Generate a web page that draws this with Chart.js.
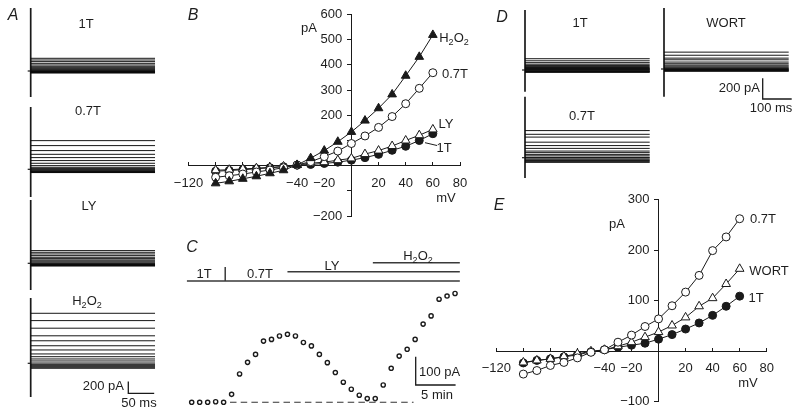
<!DOCTYPE html>
<html>
<head>
<meta charset="utf-8">
<script src="https://cdn.jsdelivr.net/npm/chart.js@4.4.0/dist/chart.umd.min.js"></script>
<style>
  body { margin: 0; background: #fff; }
  #fig { position: relative; width: 800px; height: 415px; overflow: hidden; font-family: 'Liberation Sans', Arial, sans-serif; color: #1e1e1e; }
  #fig canvas { position: absolute; z-index: 1; }
  #fig svg { position: absolute; left: 0; top: 0; z-index: 2; }
  .t { position: absolute; z-index: 3; font-size: 13px; line-height: 1; white-space: nowrap; transform: translate(-50%, -50%); }
  .p { font-size: 16px; font-style: italic; }
  .r { transform: translate(-100%, -50%); }
  .l { transform: translate(0, -50%); }
  sub { font-size: 9px; vertical-align: -3px; line-height: 0; }
</style>
</head>
<body>
<div id="fig">
  <!-- panel A -->
  <div class="t p" style="left:13px;top:15px">A</div>
  <div class="t" style="left:86px;top:23px">1T</div>
  <div class="t" style="left:88px;top:110px">0.7T</div>
  <div class="t" style="left:89px;top:205px">LY</div>
  <div class="t" style="left:87px;top:300px">H<sub>2</sub>O<sub>2</sub></div>
  <div class="t r" style="left:124px;top:385px">200 pA</div>
  <div class="t" style="left:139px;top:402px">50 ms</div>
  <!-- panel B -->
  <div class="t p" style="left:193px;top:15px">B</div>
  <div class="t" style="left:309px;top:27px">pA</div>
  <div class="t" style="left:446px;top:197px">mV</div>
  <div class="t" style="left:454px;top:37px">H<sub>2</sub>O<sub>2</sub></div>
  <div class="t" style="left:455px;top:73px">0.7T</div>
  <div class="t" style="left:446px;top:123px">LY</div>
  <div class="t" style="left:444px;top:147px">1T</div>
  <!-- panel C -->
  <div class="t p" style="left:192px;top:247px">C</div>
  <div class="t" style="left:204px;top:273px">1T</div>
  <div class="t" style="left:260px;top:273px">0.7T</div>
  <div class="t" style="left:332px;top:265px">LY</div>
  <div class="t" style="left:418px;top:255px">H<sub>2</sub>O<sub>2</sub></div>
  <div class="t l" style="left:419px;top:371px">100 pA</div>
  <div class="t" style="left:437px;top:394px">5 min</div>
  <!-- panel D -->
  <div class="t p" style="left:502px;top:17px">D</div>
  <div class="t" style="left:580px;top:22px">1T</div>
  <div class="t" style="left:726px;top:22px">WORT</div>
  <div class="t" style="left:582px;top:115px">0.7T</div>
  <div class="t r" style="left:760px;top:87px">200 pA</div>
  <div class="t" style="left:771px;top:107px">100 ms</div>
  <!-- panel E -->
  <div class="t p" style="left:499px;top:205px">E</div>
  <div class="t" style="left:617px;top:223px">pA</div>
  <div class="t" style="left:748px;top:382px">mV</div>
  <div class="t" style="left:763px;top:218px">0.7T</div>
  <div class="t" style="left:769px;top:270px">WORT</div>
  <div class="t" style="left:756px;top:297px">1T</div>
  <svg width="800" height="415"><line x1="425" y1="142.7" x2="437" y2="145.5" stroke="#1e1e1e" stroke-width="1"/></svg>
</div>
<script>
// Step potentials (mV) used for every I-V curve and every family of sweeps
const voltages = [-100, -90, -80, -70, -60, -50, -40, -30, -20, -10, 0, 10, 20, 30, 40, 50, 60];

// B: I-V curves (pA)
const ivB_1T   = [-22, -19, -16, -12, -8, -4, 2, 5, 9, 14, 22, 32, 45, 61, 77, 100, 127];
const ivB_07T  = [-46, -40, -33, -25, -17, -8, 3, 16, 36, 58, 88, 118, 152, 195, 246, 307, 369];
const ivB_LY   = [-18, -16, -13, -10, -7, -3, 3, 10, 14, 22, 29, 46, 60, 78, 100, 121, 144];
const ivB_H2O2 = [-70, -62, -52, -42, -30, -18, 3, 30, 60, 95, 134, 179, 228, 283, 357, 432, 519];

// E: I-V curves (pA)
const ivE_1T   = [-23, -18, -15, -11, -7, -1, 3, 8, 12, 16, 24, 33, 44, 56, 71, 89, 109];
const ivE_07T  = [-45, -38, -28, -22, -13, -2, 3, 18, 32, 49, 64, 90, 117, 150, 199, 226, 262];
const ivE_WORT = [-22, -18, -15, -10, -5, 0, 3, 10, 18, 28, 38, 51, 67, 89, 105, 133, 163];

// A: steady current of each sweep (pA from holding), same order as voltages
const trA_1T   = [-34, -28, -23, -17, -11, -6, 0, 11, 23, 40, 57, 80, 103, 131, 160, 188, 217];
const trA_07T  = [-56, -51, -46, -39, -29, -17, -6, 12, 34, 63, 103, 149, 200, 256, 320, 405, 490];
const trA_LY   = [-46, -40, -34, -29, -23, -17, -6, 6, 23, 40, 57, 80, 103, 131, 160, 188, 217];
const trA_H2O2 = [-85, -68, -51, -34, -17, 5, 40, 74, 113, 160, 228, 300, 385, 470, 600, 730, 855];

// capacitive transient extremes (pA): A = 1T, 0.7T, LY, H2O2; D = 1T, WORT, 0.7T
const spikeA_peak   = [1077, 1065, 1083, 1117];
const spikeA_trough = [-445, -474, -456, -576];
const spikeD_peak   = [580, 589, 589];
const spikeD_trough = [-210, -268, -196];

// C: current at +60 mV over time
const minutesC = [0, 1, 2, 3, 4, 5, 6, 7, 8, 9, 10, 11, 12, 13, 14, 15, 16, 17, 18, 19, 20, 21, 22, 23, 24, 25, 26, 27, 28, 29, 30, 31, 32, 33];
const currentC = [0, 0, 0, 2, 0, 28, 100, 141, 169, 216, 222, 234, 240, 234, 211, 199, 169, 140, 105, 71, 46, 25, 13, 13, 61, 120, 163, 187, 222, 276, 305, 364, 375, 384];
const condLabels = ['1T', '0.7T', 'LY', 'H2O2'];
const condStart = [-0.6, 4.2, 12.0, 22.7];
const condEnd = 33.6;
const baselineSpan = [4.8, 27.8];

// axis ticks
const ivTicksX  = [-120, -100, -80, -60, -40, -20, 20, 40, 60, 80];
const ivLabelsX = [-120, -40, -20, 20, 40, 60, 80];
const bTicksY   = [-200, -100, 100, 200, 300, 400, 500, 600];
const bLabelsY  = [-200, 200, 300, 400, 500, 600];
const eTicksY   = [-100, 100, 200, 300];
const eLabelsY  = [-100, 100, 200, 300];

const INK = '#1a1a1a';

Chart.defaults.font.family = "'Liberation Sans', Arial, sans-serif";
Chart.defaults.font.size = 13;
Chart.defaults.color = '#1e1e1e';
Chart.defaults.animation = false;
Chart.defaults.responsive = false;
Chart.defaults.plugins.legend.display = false;
Chart.defaults.plugins.tooltip.enabled = false;
Chart.defaults.layout.autoPadding = false;

// Create a canvas at page position
function addCanvas(box) {
    const c = document.createElement('canvas');
    c.width = box.w;
    c.height = box.h;
    c.style.left = box.x + 'px';
    c.style.top = box.y + 'px';
    document.getElementById('fig').appendChild(c);
    return c;
}

// Linear range that puts value 0 at page pixel `zero`
function spanX(box, zero, k) {
    return { min: (box.x - zero) / k, max: (box.x + box.w - zero) / k };
}
function spanY(box, zero, k) {
    return { min: (zero - box.y - box.h) / k, max: (zero - box.y) / k };
}

function line(points, opts = {}) {
    return Object.assign({
        data: points, showLine: true, pointRadius: 0, tension: 0,
        borderColor: INK, borderWidth: 1
    }, opts);
}

// Family of current sweeps (panels A and D)
function traceChart(box, origin, k, levels, peak, trough, sweepEnd, bar) {
    const canvas = addCanvas(box);
    const ds = levels.map(v => line([{ x: 0, y: v }, { x: sweepEnd, y: v }],
        { borderColor: 'rgba(10,10,10,0.95)', borderWidth: 1 }));
    ds.push(line([{ x: -3 / k.x, y: 0 }, { x: 0, y: 0 }], { borderWidth: 1.2 }));
    ds.push(line([{ x: 0, y: peak }, { x: 0, y: trough }], { borderWidth: 1.7 }));
    if (bar) {
        const cx = (bar.x - origin.x) / k.x;
        const cy = (origin.y - bar.y) / k.y;
        ds.push(line([{ x: cx, y: cy + bar.dy }, { x: cx, y: cy }, { x: cx + bar.dx, y: cy }], { borderWidth: 1.3 }));
    }
    new Chart(canvas, {
        type: 'scatter',
        data: { datasets: ds },
        options: {
            layout: { padding: 0 },
            scales: {
                x: Object.assign({ type: 'linear', display: false }, spanX(box, origin.x, k.x)),
                y: Object.assign({ type: 'linear', display: false }, spanY(box, origin.y, k.y))
            }
        }
    });
}

// Axis crossing the other one at zero; labels kept clear of the line
function axisOpts(axis, range, tickVals, labelVals) {
    const isX = axis === 'x';
    return {
        type: 'linear', min: range[0], max: range[1],
        position: isX ? { y: 0 } : { x: 0 },
        afterBuildTicks: s => { s.ticks = tickVals.map(v => ({ value: v })); },
        afterFit: s => { if (isX) s.height = 0; else s.width = 0; },
        grid: { drawOnChartArea: false, drawTicks: true, tickLength: isX ? -4 : 4, color: INK, lineWidth: 1 },
        border: { display: true, color: INK, width: 1 },
        ticks: {
            autoSkip: false, maxRotation: 0, padding: 3,
            font: { size: 13, lineHeight: isX ? 2.85 : 1.2 },
            callback: v => {
                if (!labelVals.includes(v)) return '';
                const s = String(v).replace('-', '\u2212');
                return isX ? s : s + '\u2002\u2009';
            }
        }
    };
}

// I-V chart (panels B and E)
function ivChart(box, area, xr, yr, series, yTicks, yLabels) {
    const canvas = addCanvas(box);
    new Chart(canvas, {
        type: 'scatter',
        data: {
            datasets: series.map(s => ({
                data: voltages.map((v, i) => ({ x: v, y: s.values[i] })),
                showLine: true, tension: 0, borderColor: INK, borderWidth: 1,
                pointStyle: s.shape, pointRadius: s.shape === 'triangle' ? 5 : 4,
                pointBackgroundColor: s.filled ? INK : '#fff',
                pointBorderColor: INK, pointBorderWidth: 1
            }))
        },
        options: {
            layout: {
                padding: {
                    left: area.l - box.x, top: area.t - box.y,
                    right: box.x + box.w - area.r, bottom: box.y + box.h - area.b
                }
            },
            scales: {
                x: axisOpts('x', xr, ivTicksX, ivLabelsX),
                y: axisOpts('y', yr, yTicks, yLabels)
            }
        }
    });
}

// ---- A ----
const kA = { x: 0.518, y: 11.7 / 200 };
traceChart({ x: 15, y: 5, w: 160, h: 95 },   { x: 30.7, y: 71 },    kA, trA_1T,   spikeA_peak[0], spikeA_trough[0], 240);
traceChart({ x: 15, y: 103, w: 160, h: 97 }, { x: 30.7, y: 169.3 }, kA, trA_07T,  spikeA_peak[1], spikeA_trough[1], 240);
traceChart({ x: 15, y: 198, w: 160, h: 94 }, { x: 30.7, y: 263.3 }, kA, trA_LY,   spikeA_peak[2], spikeA_trough[2], 240);
traceChart({ x: 15, y: 295, w: 160, h: 115 }, { x: 30.7, y: 363.3 }, kA, trA_H2O2, spikeA_peak[3], spikeA_trough[3], 240,
    { x: 128.3, y: 393.3, dx: 50, dy: 200 });

// ---- D ----
const kD = { x: 0.29, y: 20.7 / 200 };
traceChart({ x: 505, y: 5, w: 150, h: 90 },  { x: 525, y: 70 },    kD, ivE_1T,   spikeD_peak[0], spikeD_trough[0], 430);
traceChart({ x: 645, y: 3, w: 155, h: 112 }, { x: 664, y: 69 },    kD, ivE_WORT, spikeD_peak[1], spikeD_trough[1], 430,
    { x: 762.7, y: 99, dx: 100, dy: 200 });
traceChart({ x: 505, y: 93, w: 150, h: 90 }, { x: 525, y: 157.7 }, kD, ivE_07T,  spikeD_peak[2], spikeD_trough[2], 430);

// ---- B ----
ivChart({ x: 160, y: 0, w: 320, h: 235 }, { l: 188.5, t: 14.5, r: 460, b: 216.1 }, [-120, 80], [-200, 600], [
    { values: ivB_H2O2, shape: 'triangle', filled: true },
    { values: ivB_07T, shape: 'circle', filled: false },
    { values: ivB_LY, shape: 'triangle', filled: false },
    { values: ivB_1T, shape: 'circle', filled: true }
], bTicksY, bLabelsY);

// ---- E ----
ivChart({ x: 470, y: 185, w: 330, h: 230 }, { l: 496.3, t: 199.5, r: 766.7, b: 401.9 }, [-120, 80], [-100, 300], [
    { values: ivE_07T, shape: 'circle', filled: false },
    { values: ivE_WORT, shape: 'triangle', filled: false },
    { values: ivE_1T, shape: 'circle', filled: true }
], eTicksY, eLabelsY);

// ---- C ----
const conditionBars = {
    id: 'conditionBars',
    afterDatasetsDraw(chart) {
        const { ctx, scales: { x } } = chart;
        const xe = x.getPixelForValue(condEnd);
        const seg = (t, y) => { ctx.moveTo(x.getPixelForValue(t), y); ctx.lineTo(xe, y); };
        ctx.save();
        ctx.strokeStyle = '#3a3a3a';
        ctx.lineWidth = 1.5;
        ctx.beginPath();
        seg(condStart[0], 41);
        seg(condStart[2], 31.7);
        seg(condStart[3], 22.7);
        const xt = x.getPixelForValue(condStart[1]);
        ctx.moveTo(xt, 27);
        ctx.lineTo(xt, 41);
        ctx.stroke();
        ctx.restore();
    }
};

(function () {
    const box = { x: 180, y: 240, w: 290, h: 175 };
    const origin = { x: 191.7, y: 402.3 };
    const k = { x: 7.98, y: 0.2833 };
    const bar = { t: (415.7 - origin.x) / k.x, v: (origin.y - 385) / k.y, dx: 5, dy: 100 };
    const canvas = addCanvas(box);
    new Chart(canvas, {
        type: 'scatter',
        data: {
            datasets: [
                {
                    data: minutesC.map((t, i) => ({ x: t, y: currentC[i] })),
                    pointStyle: 'circle', pointRadius: 2.1, pointBorderWidth: 1.4,
                    pointBackgroundColor: '#fff', pointBorderColor: INK
                },
                line([{ x: baselineSpan[0], y: 0 }, { x: baselineSpan[1], y: 0 }],
                    { borderColor: '#333', borderWidth: 1.1, borderDash: [6.5, 4.2] }),
                line([{ x: bar.t, y: bar.v + bar.dy }, { x: bar.t, y: bar.v }, { x: bar.t + bar.dx, y: bar.v }],
                    { borderWidth: 1.3 })
            ]
        },
        options: {
            layout: { padding: 0 },
            scales: {
                x: Object.assign({ type: 'linear', display: false }, spanX(box, origin.x, k.x)),
                y: Object.assign({ type: 'linear', display: false }, spanY(box, origin.y, k.y))
            }
        },
        plugins: [conditionBars]
    });
})();
</script>
</body>
</html>
